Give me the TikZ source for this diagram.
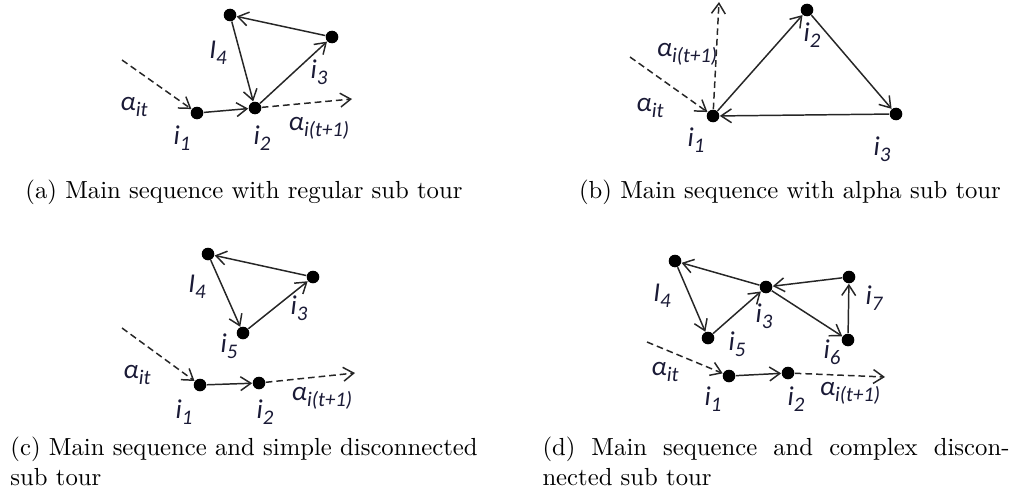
\documentclass[tikz,border=0pt]{standalone}
\usepackage{fontspec}
\newfontfamily\labfont{Carlito}
\usetikzlibrary{arrows.meta}
\definecolor{lab}{HTML}{1A1A36}
\definecolor{edge}{HTML}{262626}
\tikzset{
 dot/.style={circle,fill=black,inner sep=0pt,minimum size=5.1pt},
 edg/.style={draw=edge,line width=0.6pt,-{Straight Barb[length=4.2pt,width=5.6pt]}},
 dsh/.style={edg,dash pattern=on 2.7pt off 1.6pt},
 lbl/.style={text=lab,inner sep=0pt,font=\labfont\itshape\fontsize{11}{13}\selectfont},
 capt/.style={inner sep=0pt,font=\fontsize{10}{12}\selectfont},
}
\newcommand{\lb}[2]{#1\raisebox{-0.45ex}{\fontsize{8.4}{9}\selectfont #2}}
\begin{document}
\begin{tikzpicture}[x=0.40472pt,y=-0.40472pt]
\useasboundingbox (0,0) rectangle (1018,495);
% ---------- (a)
\node[dot] (a1) at (197,113) {};
\node[dot] (a2) at (255,108) {};
\node[dot] (a3) at (332,37) {};
\node[dot] (a4) at (230,15) {};
\coordinate (ain) at (122,60);
\coordinate (aout) at (352,99);
\draw[dsh] (ain) -- (a1);
\draw[dsh] (a2) -- (aout);
\draw[edg] (a1) -- (a2);
\draw[edg] (a2) -- (a3);
\draw[edg] (a3) -- (a4);
\draw[edg] (a4) -- (a2);
\node[lbl] (la0) at (134,107) {\lb{α}{it}};
\node[lbl] (la1) at (182,138) {\lb{i}{1}};
\node[lbl] (la2) at (262,138) {\lb{i}{2}};
\node[lbl] (la5) at (319,128) {\lb{α}{i(t+1)}};
\node[lbl] (la4) at (218,53) {\lb{I}{4}};
\node[lbl] (la3) at (319,72) {\lb{i}{3}};
\node[capt,anchor=base] (capa) at (244,198) {(a) Main sequence with regular sub tour};
% ---------- (b)
\node[dot] (b1) at (713,116) {};
\node[dot] (b2) at (807,10) {};
\node[dot] (b3) at (896,114) {};
\coordinate (bin) at (630,57);
\coordinate (bout) at (719,2);
\draw[dsh] (bin) -- (b1);
\draw[dsh] (b1) -- (bout);
\draw[edg] (b1) -- (b2);
\draw[edg] (b2) -- (b3);
\draw[edg] (b3) -- (b1);
\node[lbl] (lb5) at (687,54) {\lb{α}{i(t+1)}};
\node[lbl] (lb0) at (650,108) {\lb{α}{it}};
\node[lbl] (lb1) at (696,140) {\lb{i}{1}};
\node[lbl] (lb2) at (812,35) {\lb{i}{2}};
\node[lbl] (lb3) at (882,149) {\lb{i}{3}};
\node[capt,anchor=base] (capb) at (790,198) {(b) Main sequence with alpha sub tour};
% ---------- (c)
\node[dot] (c4) at (208,254) {};
\node[dot] (c3) at (313,277) {};
\node[dot] (c5) at (243,333) {};
\node[dot] (c1) at (200,385) {};
\node[dot] (c2) at (259,383) {};
\coordinate (cin) at (122,328);
\coordinate (cout) at (355,373);
\draw[dsh] (cin) -- (c1);
\draw[dsh] (c2) -- (cout);
\draw[edg] (c1) -- (c2);
\draw[edg] (c3) -- (c4);
\draw[edg] (c4) -- (c5);
\draw[edg] (c5) -- (c3);
\node[lbl] (lc4) at (197,287) {\lb{I}{4}};
\node[lbl] (lc3) at (299,308) {\lb{i}{3}};
\node[lbl] (lc5) at (229,346) {\lb{i}{5}};
\node[lbl] (lc0) at (137,375) {\lb{α}{it}};
\node[lbl] (lc1) at (184,412) {\lb{i}{1}};
\node[lbl] (lc2) at (265,412) {\lb{i}{2}};
\node[lbl] (lc6) at (322,398) {\lb{α}{i(t+1)}};
\node[capt,anchor=base west] (capc1) at (10,455) {(c) Main sequence and simple disconnected};
\node[capt,anchor=base west] (capc2) at (10,485) {sub tour};
% ---------- (d)
\node[dot] (d4) at (675,261) {};
\node[dot] (d3) at (766,287) {};
\node[dot] (d7) at (849,277) {};
\node[dot] (d5) at (708,338) {};
\node[dot] (d6) at (848,340) {};
\node[dot] (d1) at (729,376) {};
\node[dot] (d2) at (788,373) {};
\coordinate (din) at (647,342);
\coordinate (dout) at (885,377);
\draw[dsh] (din) -- (d1);
\draw[dsh] (d2) -- (dout);
\draw[edg] (d1) -- (d2);
\draw[edg] (d3) -- (d4);
\draw[edg] (d4) -- (d5);
\draw[edg] (d5) -- (d3);
\draw[edg] (d3) -- (d6);
\draw[edg] (d6) -- (d7);
\draw[edg] (d7) -- (d3);
\node[lbl] (ld4) at (662,296) {\lb{I}{4}};
\node[lbl] (ld3) at (764,316) {\lb{i}{3}};
\node[lbl] (ld5) at (737,344) {\lb{i}{5}};
\node[lbl] (ld6) at (832,352) {\lb{i}{6}};
\node[lbl] (ld7) at (874,298) {\lb{i}{7}};
\node[lbl] (ld0) at (665,372) {\lb{α}{it}};
\node[lbl] (ld1) at (713,399) {\lb{i}{1}};
\node[lbl] (ld2) at (796,399) {\lb{i}{2}};
\node[lbl] (ld8) at (850,393) {\lb{α}{i(t+1)}};
\node[capt,anchor=base west] (capd1) at (542,455) {\makebox[189pt][s]{(d) Main sequence and complex discon-}};
\node[capt,anchor=base west] (capd2) at (542,485) {nected sub tour};
\end{tikzpicture}
\end{document}
